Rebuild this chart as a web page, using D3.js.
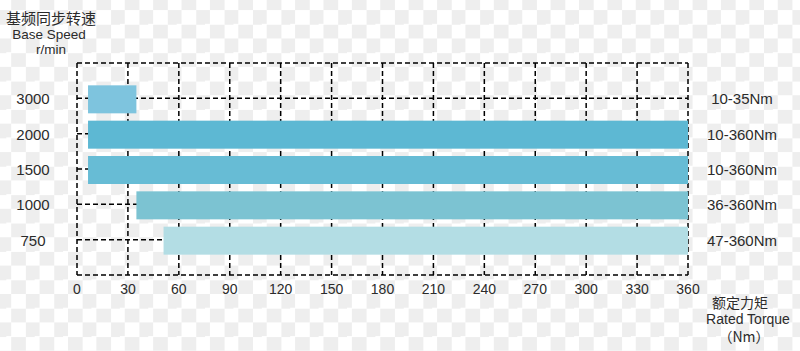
<!DOCTYPE html>
<html>
<head>
<meta charset="utf-8">
<script src="https://cdn.jsdelivr.net/npm/d3@7"></script>
<style>
  body {
    margin: 0;
    background-color: #ffffff;
    background-image: conic-gradient(#eeeeee 25%, #ffffff 0 50%, #eeeeee 0 75%, #ffffff 0);
    background-size: 28.4px 28.4px;
    background-position: 11.2px 10.1px;
  }
  svg { display: block; }
  text { font-family: "Liberation Sans", Arial, sans-serif; fill: #2b2b2b; }
  .cjk { font-family: "Noto Sans CJK SC", sans-serif; }
</style>
</head>
<body>
<script>
(function() {

  // base speeds (r/min), top to bottom
  let speeds = ["3000", "2000", "1500", "1000", "750"];
  // bar extent along the torque axis, as drawn
  let barStart = [6.5, 6.5, 6.5, 35, 51];
  let barEnd = [35, 360, 360, 360, 360];
  let rangeLabels = ["10-35Nm", "10-360Nm", "10-360Nm", "36-360Nm", "47-360Nm"];
  let barColors = ["#7ec4de", "#5db8d3", "#67bcd5", "#7cc3d2", "#b3dde4"];
  let xTicks = [0, 30, 60, 90, 120, 150, 180, 210, 240, 270, 300, 330, 360];

  let svg = d3.select("body")
    .append("svg")
    .attr("width", 800)
    .attr("height", 351);

  let left = 77, right = 688, top = 63, bottom = 275;

  let xScale = d3.scaleLinear()
    .domain([0, 360])
    .range([left, right]);

  // points sit on the horizontal gridlines
  let yScale = d3.scalePoint()
    .domain(speeds)
    .range([top, bottom])
    .padding(1);

  let dash = "5,3";

  // vertical gridlines
  svg.append("g").selectAll("line")
    .data(xTicks)
    .enter()
    .append("line")
    .attr("x1", (d) => xScale(d))
    .attr("x2", (d) => xScale(d))
    .attr("y1", top)
    .attr("y2", bottom)
    .attr("stroke", "#000")
    .attr("stroke-width", 1.5)
    .attr("stroke-dasharray", dash);

  // horizontal gridlines: frame top/bottom + one per speed
  let hLines = [top, bottom].concat(speeds.map((s) => yScale(s)));
  svg.append("g").selectAll("line")
    .data(hLines)
    .enter()
    .append("line")
    .attr("x1", left)
    .attr("x2", right)
    .attr("y1", (d) => d)
    .attr("y2", (d) => d)
    .attr("stroke", "#000")
    .attr("stroke-width", 1.5)
    .attr("stroke-dasharray", dash);

  // bars
  let barH = 28;
  svg.append("g").selectAll("rect")
    .data(speeds)
    .enter()
    .append("rect")
    .attr("x", (d, i) => xScale(barStart[i]))
    .attr("width", (d, i) => xScale(barEnd[i]) - xScale(barStart[i]))
    .attr("y", (d) => yScale(d) - barH / 2 + 1)
    .attr("height", barH)
    .attr("fill", (d, i) => barColors[i]);

  // speed labels on the left
  svg.append("g").selectAll("text")
    .data(speeds)
    .enter()
    .append("text")
    .attr("x", 33)
    .attr("y", (d) => yScale(d) + 6)
    .attr("text-anchor", "middle")
    .style("font-size", "15px")
    .text((d) => d);

  // torque range labels on the right
  svg.append("g").selectAll("text")
    .data(speeds)
    .enter()
    .append("text")
    .attr("x", 742)
    .attr("y", (d) => yScale(d) + 6)
    .attr("text-anchor", "middle")
    .style("font-size", "15px")
    .text((d, i) => rangeLabels[i]);

  // x tick labels
  svg.append("g").selectAll("text")
    .data(xTicks)
    .enter()
    .append("text")
    .attr("x", (d) => xScale(d))
    .attr("y", 294)
    .attr("text-anchor", "middle")
    .style("font-size", "14px")
    .text((d) => d);

  // y axis title
  svg.append("text").attr("class", "cjk")
    .attr("x", 51).attr("y", 24)
    .attr("text-anchor", "middle")
    .style("font-size", "15px")
    .text("基频同步转速");
  svg.append("text")
    .attr("x", 49).attr("y", 39)
    .attr("text-anchor", "middle")
    .style("font-size", "13.5px")
    .text("Base Speed");
  svg.append("text")
    .attr("x", 51).attr("y", 54)
    .attr("text-anchor", "middle")
    .style("font-size", "13.5px")
    .text("r/min");

  // x axis title
  svg.append("text").attr("class", "cjk")
    .attr("x", 740).attr("y", 308)
    .attr("text-anchor", "middle")
    .style("font-size", "14px")
    .text("额定力矩");
  svg.append("text")
    .attr("x", 748).attr("y", 324)
    .attr("text-anchor", "middle")
    .style("font-size", "14px")
    .text("Rated Torque");
  svg.append("text").attr("class", "cjk")
    .attr("x", 744).attr("y", 342)
    .attr("text-anchor", "middle")
    .style("font-size", "14px")
    .text("（Nm）");

})();
</script>
</body>
</html>
